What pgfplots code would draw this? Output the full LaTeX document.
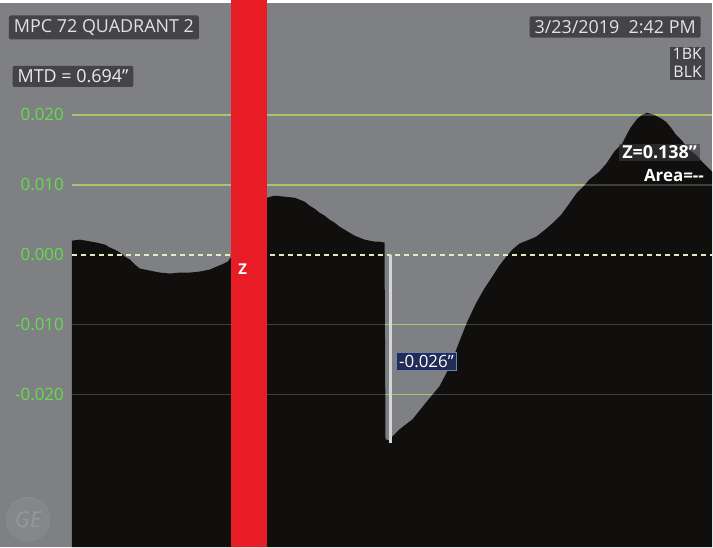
\documentclass[border=0pt]{standalone}
\usepackage{fontspec}
\setmainfont{Open Sans}
\usepackage{pgfplots}
\pgfplotsset{compat=1.18}

\definecolor{bg}{RGB}{127,128,132}
\definecolor{prof}{RGB}{16,15,13}
\definecolor{zred}{RGB}{232,28,36}
\definecolor{gridg}{RGB}{150,182,72}
\definecolor{tickg}{RGB}{96,224,70}
\definecolor{boxg}{RGB}{58,58,62}
\definecolor{navy}{RGB}{34,44,86}
\definecolor{navyedge}{RGB}{110,130,175}

\begin{document}
\begin{tikzpicture}
\begin{axis}[
  width=713bp, height=548bp, scale only axis,
  xmin=0, xmax=713, ymin=-0.0418571, ymax=0.0364286,
  axis line style={draw=none},
  axis background/.style={fill=bg},
  xtick=\empty,
  ytick={-0.02,-0.01,0,0.01,0.02},
  major tick length=0pt,
  scaled y ticks=false,
  yticklabel style={anchor=east, xshift=64bp, inner sep=0pt, text=tickg,
    font=\fontsize{17}{17}\selectfont,
    /pgf/number format/fixed, /pgf/number format/fixed zerofill,
    /pgf/number format/precision=3, /pgf/number format/assume math mode=true},
  clip=false,
]
% grid lines behind the profile
\addplot[gridg, line width=1.6bp] coordinates {(72,0.02) (713,0.02)};
\addplot[gridg, line width=1.6bp] coordinates {(72,0.01) (713,0.01)};
\addplot[gridg, line width=1.6bp] coordinates {(72,-0.01) (713,-0.01)};
\addplot[gridg, line width=1.6bp] coordinates {(72,-0.02) (713,-0.02)};

% depth profile
\addplot[fill=prof, draw=none] coordinates {
 (72,-0.0418571) (72,0.0020) (80,0.00214) (97,0.00171) (105,0.00143)
 (110,0.0010) (115,0.00071) (120,0.00029) (125,-0.00029) (130,-0.00071)
 (135,-0.00143) (140,-0.0020) (150,-0.00229) (160,-0.00257) (170,-0.00271)
 (180,-0.00257) (190,-0.00257) (200,-0.00243) (210,-0.00214) (217,-0.00171)
 (224,-0.00129) (228,-0.0010) (231,-0.00043) (240,0.00043) (250,0.00286)
 (260,0.00643) (267,0.00814) (275,0.00843) (285,0.00829) (295,0.00814)
 (300,0.00786) (305,0.00757) (310,0.0070) (315,0.00657) (320,0.0060)
 (325,0.00557) (330,0.0050) (335,0.00457) (340,0.0040) (345,0.00357)
 (350,0.00314) (355,0.00271) (360,0.00243) (365,0.00214) (370,0.0020)
 (375,0.00186) (380,0.00186) (385,0.00171) (386,-0.02643) (390,-0.02657)
 (393,-0.0260) (400,-0.0250) (413,-0.02357) (425,-0.02143) (440,-0.01886)
 (450,-0.01614) (460,-0.01243) (468,-0.00957) (477,-0.00686) (485,-0.00486)
 (493,-0.00314) (500,-0.00157) (507,-0.00029) (513,0.00071) (520,0.00157)
 (530,0.00214) (537,0.00257) (547,0.00371) (555,0.00471) (562,0.00571)
 (570,0.00729) (577,0.00871) (584,0.00971) (590,0.01071) (600,0.01186)
 (607,0.0130) (615,0.01471) (623,0.01586) (628,0.01729) (632,0.01829)
 (638,0.01943) (643,0.0200) (648,0.02029) (655,0.0200) (661,0.01957)
 (667,0.0190) (672,0.01814) (677,0.01714) (683,0.01629) (690,0.0150)
 (697,0.01429) (703,0.01329) (708,0.01257) (713,0.01186) (713,-0.0418571)
};

% faint grid over everything
\addplot[white, opacity=0.2, line width=1.6bp] coordinates {(72,0.02) (713,0.02)};
\addplot[white, opacity=0.2, line width=1.6bp] coordinates {(72,0.01) (713,0.01)};
\addplot[white, opacity=0.2, line width=1.6bp] coordinates {(72,-0.01) (713,-0.01)};
\addplot[white, opacity=0.2, line width=1.6bp] coordinates {(72,-0.02) (713,-0.02)};
% zero reference
\addplot[color={rgb,255:red,222;green,236;blue,190}, line width=2bp,
  dash pattern=on 5bp off 4bp] coordinates {(72,0) (713,0)};

% top border
\addplot[fill=white, draw=none] coordinates {(0,0.0360) (713,0.0360) (713,0.0364286) (0,0.0364286)};

% Z cursor band
\addplot[fill=zred, draw=none] coordinates {(231,-0.0418571) (267,-0.0418571) (267,0.0364286) (231,0.0364286)};

% depth measurement line
\addplot[color={rgb,255:red,214;green,214;blue,214}, line width=3bp] coordinates {(391,0) (391,-0.0270)};

\node[text=white, font=\fontsize{15}{15}\selectfont\bfseries] at (axis cs:243,-0.00214) {Z};
\node[fill=navy, draw=navyedge, line width=1bp, text=white, inner sep=3bp,
  font=\fontsize{17}{17}\selectfont] at (axis cs:427,-0.01529) {-0.026"};

\node[fill=boxg, fill opacity=0.85, text opacity=1, text={rgb,255:red,226;green,226;blue,226},
  inner xsep=5bp, inner ysep=4bp, rounded corners=2bp, font=\fontsize{18}{18}\selectfont]
  at (axis cs:104,0.0325) {MPC 72 QUADRANT 2};
\node[fill=boxg, fill opacity=0.85, text opacity=1, text={rgb,255:red,236;green,236;blue,236},
  inner xsep=5bp, inner ysep=4bp, rounded corners=2bp, font=\fontsize{18}{18}\selectfont]
  at (axis cs:73,0.0255) {MTD = 0.694"};
\node[fill=boxg, fill opacity=0.85, text opacity=1, text={rgb,255:red,226;green,226;blue,226},
  inner xsep=5bp, inner ysep=4bp, rounded corners=2bp, font=\fontsize{18}{18}\selectfont]
  at (axis cs:616,0.03257) {3/23/2019\ \ 2:42 PM};
\node[fill=boxg, fill opacity=0.85, text opacity=1, text={rgb,255:red,236;green,236;blue,236},
  inner xsep=3bp, inner ysep=2bp, align=right, anchor=north east,
  font=\fontsize{16}{18}\selectfont]
  at (axis cs:706,0.0298) {1BK\\BLK};

\node[fill=boxg, fill opacity=0.6, text opacity=1, text=white, anchor=east,
  inner xsep=3bp, inner ysep=2bp, font=\fontsize{18}{18}\selectfont\bfseries]
  at (axis cs:701,0.01464) {Z=0.138"};
\node[text=white, anchor=east, inner sep=0pt, font=\fontsize{17}{17}\selectfont\bfseries]
  at (axis cs:705,0.01129) {Area={-}{-}};

% logo
\node[circle, minimum size=44bp, fill=white, fill opacity=0.05, draw=white, draw opacity=0.1,
  text opacity=0.14, text=white, font=\fontsize{22}{22}\selectfont\itshape]
  at (axis cs:28,-0.03786) {GE};
\end{axis}
\end{tikzpicture}
\end{document}
